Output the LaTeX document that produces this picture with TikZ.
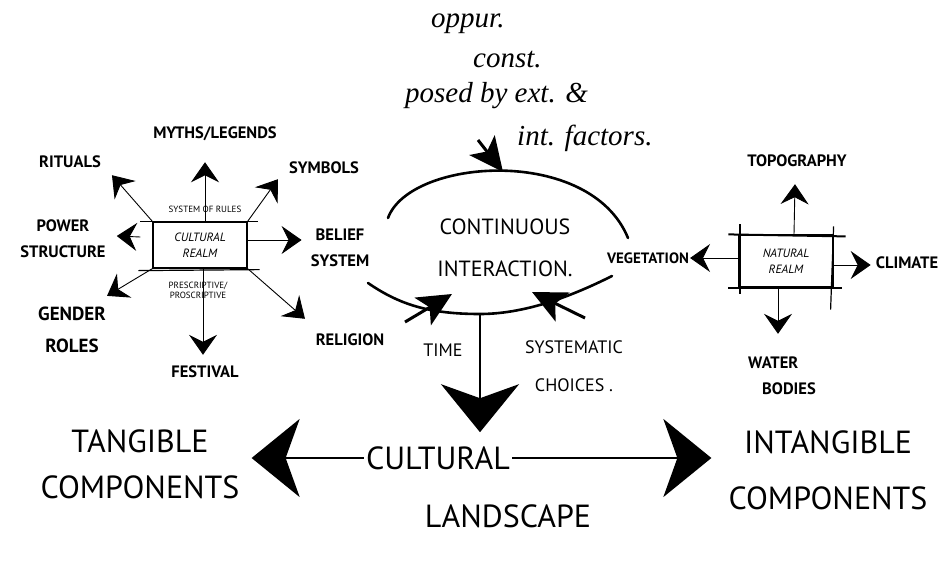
\documentclass[tikz,border=0pt]{standalone}
\usepackage{fontspec}
\setmainfont{PT Sans}
\newfontfamily\handfont{Liberation Serif}
\usetikzlibrary{arrows.meta,calc}
\begin{document}
\begin{tikzpicture}[x=1pt,y=-1pt,
  lbl/.style={font=\fontsize{16.5}{26}\selectfont\bfseries, align=center, inner sep=1pt},
  midlbl/.style={font=\fontsize{22}{42}\selectfont, align=center, inner sep=1pt},
  big/.style={font=\fontsize{32}{46}\selectfont, align=center, inner sep=2pt},
  small/.style={font=\fontsize{9}{10}\selectfont, align=center, inner sep=1pt},
  note/.style={font=\handfont\itshape\fontsize{29}{30}\selectfont, inner sep=1pt, anchor=west},
  realm/.style={draw, line width=1.2, font=\fontsize{12}{16}\selectfont\itshape, align=center, inner sep=0pt},
  conn/.style={line width=0.9, -{Stealth[length=20, width=28, inset=7]}},
  loop/.style={line width=2.6, line cap=round},
  fat/.style={line width=3, -{Stealth[length=34, width=32, inset=8]}},
  bigarr/.style={line width=2.4, -{Stealth[length=48, width=78, inset=14]}}]
\useasboundingbox (0,0) rectangle (948,560);

% ---------- cultural realm ----------
\node[realm, minimum width=94, minimum height=46] (cr) at (200,245) {CULTURAL\\REALM};
\draw[line width=1.2] ($(cr.north west)+(-12,0)$) -- ($(cr.north east)+(10,0)$);
\draw[line width=1.2] ($(cr.south west)+(-14,2)$) -- ($(cr.south east)+(12,1)$);
\node[small] (sor) at (205,209) {SYSTEM OF RULES};
\node[small] (pp) at (198,290) {PRESCRIPTIVE/\\PROSCRIPTIVE};

\node[lbl] (myth) at (215,134) {MYTHS/LEGENDS};
\node[lbl] (rit) at (70,162) {RITUALS};
\node[lbl] (sym) at (324,168) {SYMBOLS};
\node[lbl] (pow) at (63,239) {POWER\\STRUCTURE};
\node[lbl] (bel) at (340,248) {BELIEF\\SYSTEM};
\node[lbl, font=\fontsize{19}{32}\selectfont\bfseries] (gen) at (72,330) {GENDER\\ROLES};
\node[lbl] (fes) at (205,372) {FESTIVAL};
\node[lbl] (rel) at (350,340) {RELIGION};

\draw[conn] ($(cr.north)+(5,0)$) -- ($(myth.south)+(-10,20)$);
\draw[conn] (cr.north west) -- ($(rit.south east)+(10,6)$);
\draw[conn] (cr.north east) -- ($(sym.south west)+(-10,4)$);
\draw[conn] ($(cr.west)+(-12,-8)$) -- ($(pow.east)+(10,-3)$);
\draw[conn] ($(cr.east)+(0,-5)$) -- ($(bel.west)+(-8,-8)$);
\draw[conn] (cr.south west) -- ($(gen.north east)+(0,-10)$);
\draw[conn] ($(cr.south)+(3,0)$) -- ($(fes.north)+(-2,-10)$);
\draw[conn] (cr.south east) -- ($(rel.north)+(-45,-14)$);

% ---------- continuous interaction ----------
\coordinate (ul) at (388,218);
\coordinate (ur) at (628,238);
\coordinate (ll) at (368,283);
\coordinate (lb) at (480,314);
\coordinate (lr) at (612,276);
\draw[loop] (ul) .. controls (410,158) and (590,145) .. (ur);
\draw[loop] (ll) .. controls (400,305) and (430,314) .. (lb) .. controls (530,314) and (580,292) .. (lr);
\node[midlbl] (ci) at (505,248) {CONTINUOUS\\INTERACTION.};

\node[note] (n1) at (430,24) {oppur.};
\node[note] (n2) at (472,60) {const.};
\node[note] (n3) at (404,96) {posed by ext. \&};
\node[note] (n4) at (516,138) {int. factors.};

\coordinate (ta) at (478,140);
\coordinate (tb) at (503,172);
\draw[fat] (ta) -- (tb);
\coordinate (la) at (405,322);
\coordinate (lt) at (452,294);
\draw[fat] (la) -- (lt);
\coordinate (ra) at (585,318);
\coordinate (rt) at (532,292);
\draw[fat] (ra) -- (rt);

\node[lbl, font=\fontsize{18}{20}\selectfont] (time) at (443,350) {TIME};
\node[lbl, font=\fontsize{18}{38}\selectfont] (sc) at (574,366) {SYSTEMATIC\\CHOICES .};

% ---------- natural realm ----------
\node[realm, minimum width=94, minimum height=52] (nr) at (786,261) {NATURAL\\REALM};
\draw[line width=2] ($(nr.north west)+(-10,0)$) -- ($(nr.north east)+(12,2)$);
\draw[line width=2] ($(nr.south west)+(-10,0)$) -- ($(nr.south east)+(8,0)$);
\draw[line width=2] ($(nr.north west)+(2,-10)$) -- ($(nr.south west)+(2,6)$);
\draw[line width=1.2] ($(nr.north east)+(0,-8)$) -- ($(nr.south east)+(-3,22)$);

\node[lbl] (topo) at (797,161) {TOPOGRAPHY};
\node[lbl] (clim) at (907,263) {CLIMATE};
\node[lbl, align=left] (wat) at (782,376) {WATER\\\hspace{14pt}BODIES};
\node[lbl, font=\fontsize{15}{20}\selectfont\bfseries] (veg) at (648,258) {VEGETATION};

\draw[conn] ($(nr.north)+(8,0)$) -- ($(topo.south)+(-2,16)$);
\draw[conn] ($(nr.east)+(0,4)$) -- ($(clim.west)+(-4,2)$);
\draw[conn] ($(nr.south)+(-8,0)$) -- ($(wat.north)+(-4,-22)$);
\draw[conn] ($(nr.west)+(0,-3)$) -- (veg.east);

% ---------- cultural landscape ----------
\node[big] (cult) at (438,458) {CULTURAL};
\node[big] (land) at (508,516) {LANDSCAPE};
\node[big] (tang) at (140,464) {TANGIBLE\\COMPONENTS};
\node[big, font=\fontsize{32}{56}\selectfont] (intang) at (828,470) {INTANGIBLE\\COMPONENTS};

\draw[bigarr] (lb) -- ($(cult.north)+(42,-12)$);
\draw[bigarr] (cult.west) -- ($(cult.west -| tang.east)+(10,0)$);
\draw[bigarr] (cult.east) -- ($(cult.east -| intang.west)+(-15,0)$);

\end{tikzpicture}
\end{document}
